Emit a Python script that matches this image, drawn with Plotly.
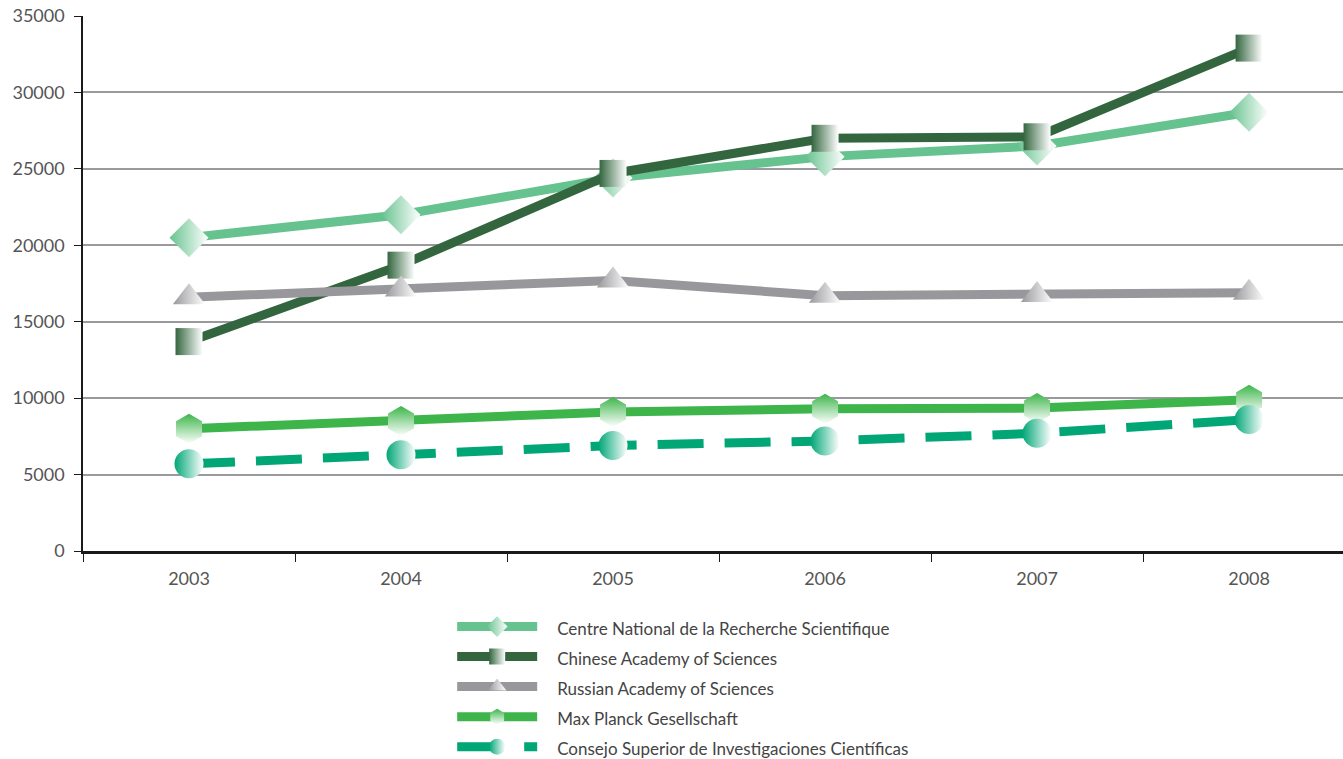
import plotly.graph_objects as go

years = ["2003", "2004", "2005", "2006", "2007", "2008"]
cnrs = [20500, 22000, 24400, 25800, 26500, 28700]
cas = [13700, 18700, 24700, 27000, 27100, 32900]
ras = [16600, 17100, 17700, 16700, 16750, 16900]
mpg = [8000, 8500, 9100, 9300, 9350, 9900]
csic = [5700, 6300, 6900, 7200, 7700, 8600]

series = [
    ("Centre National de la Recherche Scientifique", cnrs, "#66c28e", "diamond", "solid", "horizontal", 30),
    ("Chinese Academy of Sciences", cas, "#33663f", "square", "solid", "horizontal", 27),
    ("Russian Academy of Sciences", ras, "#98989c", "triangle-up", "solid", "horizontal", 28),
    ("Max Planck Gesellschaft", mpg, "#3db54a", "hexagon", "solid", "vertical", 30),
    ("Consejo Superior de Investigaciones Científicas", csic, "#00a676", "circle", "46px,21px", "horizontal", 29),
]

fig = go.Figure()
for name, vals, color, sym, dash, grad, size in series:
    fig.add_trace(go.Scatter(
        x=years, y=vals,
        name="&nbsp;&nbsp;<span style='font-size:17px'>&nbsp;" + name + "</span>",
        mode="lines+markers",
        line=dict(color=color, width=9, dash=dash),
        marker=dict(symbol=sym, size=size, color=color,
                    line=dict(width=0),
                    gradient=dict(type=grad, color="#ffffff")),
    ))

font_family = "Lato, 'Noto Sans', sans-serif"
fig.update_layout(
    width=1343, height=759,
    margin=dict(l=83, r=0, t=16, b=208),
    paper_bgcolor="white", plot_bgcolor="white",
    font=dict(family=font_family, size=18, color="#555555"),
    showlegend=True,
    legend=dict(
        x=0.293, y=0.2009, xanchor="left", yanchor="top",
        yref="container",
        font=dict(size=20.8, color="#444444"),
        itemwidth=80, tracegroupgap=0,
        bgcolor="rgba(0,0,0,0)",
    ),
    xaxis=dict(
        type="category", range=[-0.5, 5.443],
        showgrid=False, showline=True, linecolor="#1a1a1a", linewidth=2.5,
        ticks="outside", tickson="boundaries", ticklen=8, tickcolor="#1a1a1a", tickwidth=1,
        tickfont=dict(size=18, color="#555555"),
        ticklabelstandoff=10,
        fixedrange=True,
    ),
    yaxis=dict(
        range=[0, 35000], dtick=5000, tick0=0,
        showgrid=True, gridcolor="#9a9a9e", gridwidth=2,
        showline=True, linecolor="#1a1a1a", linewidth=1.5,
        ticks="outside", ticklen=7, tickcolor="#1a1a1a", tickwidth=1,
        tickfont=dict(size=18, color="#555555"),
        ticklabelstandoff=6,
        zeroline=False, tickformat="d",
    ),
)

fig.write_html("out.html", config={"displayModeBar": False},
               post_script="document.body.style.margin='0';document.body.style.overflow='hidden';")
